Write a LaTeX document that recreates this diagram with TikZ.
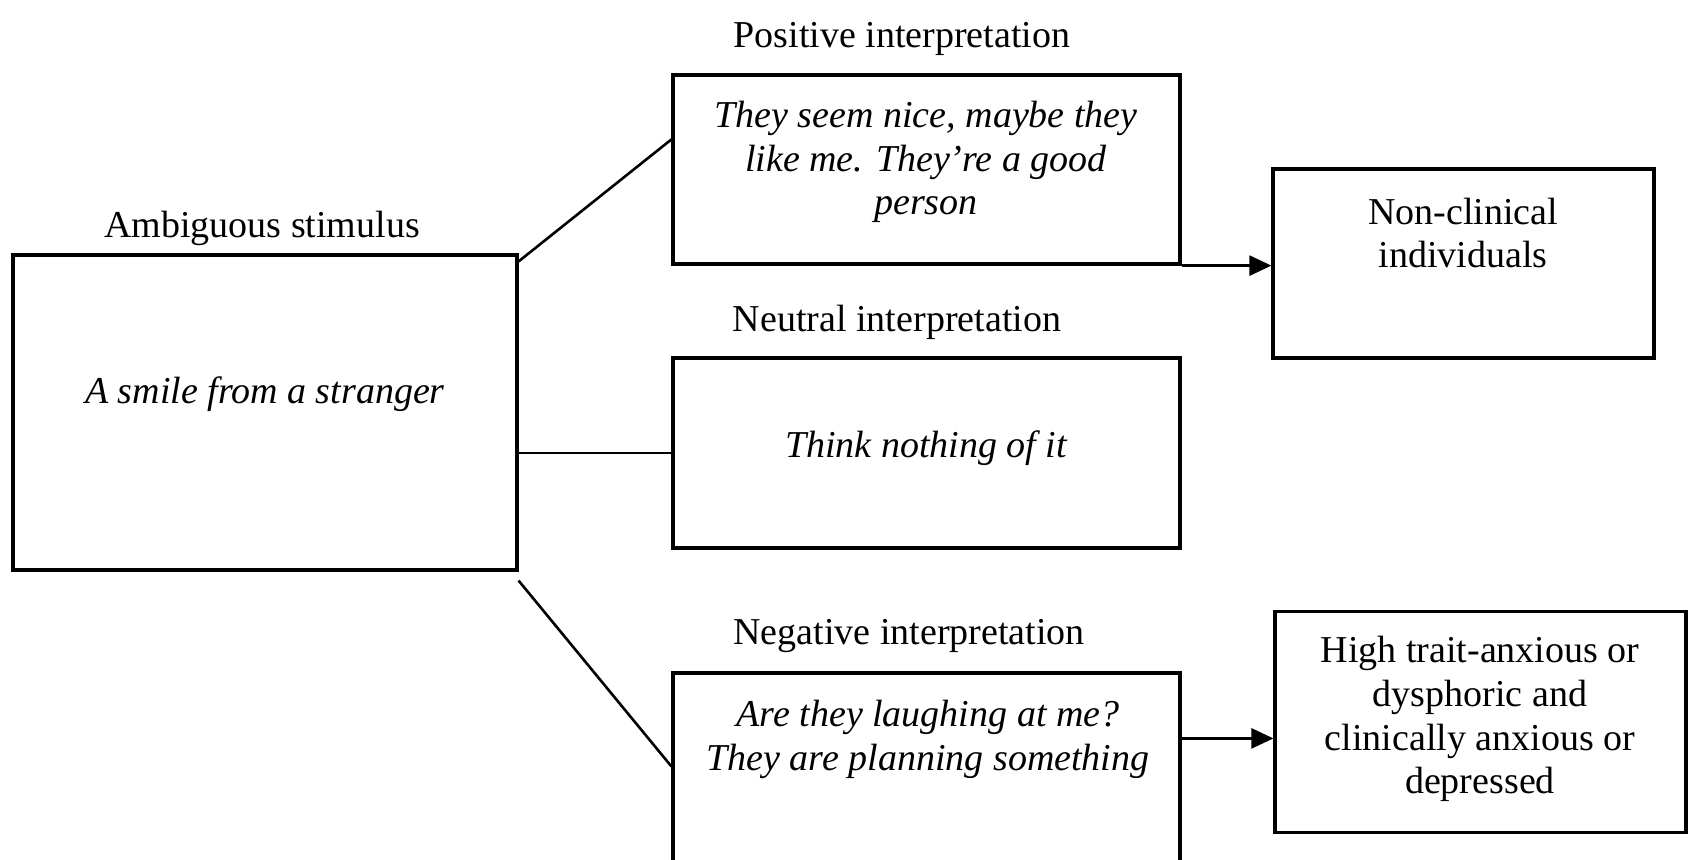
\documentclass[tikz,border=0pt]{standalone}
\usepackage{fontspec}
\setmainfont{Liberation Serif}
\usetikzlibrary{calc,arrows.meta}
\begin{document}
\begin{tikzpicture}[x=0.5pt,y=-0.5pt,
  box/.style={draw=black,line width=1.6pt,rectangle,inner sep=0pt,fill=none},
  txt/.style={inner sep=0pt,align=center,font=\fontsize{19pt}{21.9pt}\selectfont},
  itxt/.style={txt,font=\fontsize{19pt}{21.9pt}\selectfont\itshape},
  link/.style={draw=black,line width=1.3pt},
  arrowlink/.style={link,-{Triangle[length=11pt,width=10pt]}}]
\useasboundingbox (0,0) rectangle (1697,859);
\clip (0,0) rectangle (1697,859);

% boxes
\node[box,minimum width=252pt,minimum height=157.5pt] (stim) at (265,412.5) {};
\node[box,minimum width=253.5pt,minimum height=94.5pt] (pos) at (926.5,169.5) {};
\node[box,minimum width=253.5pt,minimum height=95pt] (neu) at (926.5,453) {};
\node[box,minimum width=253.5pt,minimum height=113.5pt] (neg) at (926.5,786.5) {};
\node[box,minimum width=190.5pt,minimum height=94.5pt] (nonc) at (1463.5,263.5) {};
\node[box,minimum width=205.5pt,minimum height=110.25pt] (high) at (1480.5,722) {};

% headings
\node[txt] (stimlab) at (262,228) {Ambiguous stimulus};
\node[txt] (poslab) at (902,39) {Positive interpretation};
\node[txt] (neulab) at (897,322) {Neutral interpretation};
\node[txt] (neglab) at (909,636) {Negative interpretation};

% box contents
\node[itxt] (stimtxt) at (265,394) {A smile from a stranger};
\node[itxt] (postxt) at (926,162) {They seem nice, maybe they\\like me. They’re a good\\person};
\node[itxt] (neutxt) at (926,448) {Think nothing of it};
\node[itxt] (negtxt) at (928,739) {Are they laughing at me?\\They are planning something};
\node[txt] (nonctxt) at (1463,233) {Non-clinical\\individuals};
\node[txt] (hightxt) at (1480,719) {High trait-anxious or\\dysphoric and\\clinically anxious or\\depressed};

% branches from the stimulus
\draw[link] ($(stim.north east)+(0,8)$) -- ($(pos.north west)+(0,66)$);
\draw[link] (neu.west -| stim.east) -- (neu.west);
\draw[link] ($(stim.south east)+(0,9)$) -- ($(neg.north west)+(0,95)$);

% outcomes
\draw[arrowlink] (pos.south east) -- (pos.south east -| nonc.west);
\coordinate (negout) at ($(neg.north east)+(0,67)$);
\draw[arrowlink] (negout) -- (negout -| high.west);
\end{tikzpicture}
\end{document}
